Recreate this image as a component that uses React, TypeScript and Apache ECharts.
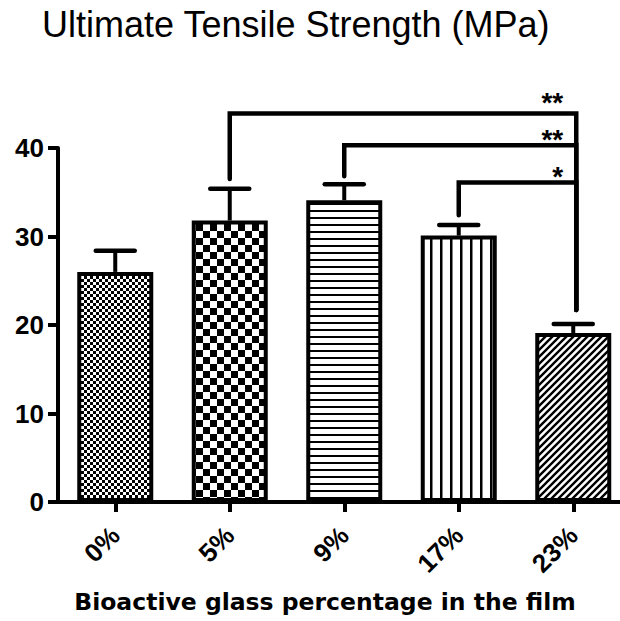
import React, { useEffect, useRef } from "react";
import * as echarts from "echarts";

const categories = ["0%", "5%", "9%", "17%", "23%"];
const means = [26.0, 31.8, 34.1, 30.1, 19.1];
const upperErrors = [28.4, 35.4, 35.9, 31.3, 20.1];
const yMax = 40;
const yInterval = 10;

const bracketFrom = [1, 2, 3];
const bracketTo = [4, 4, 4];
const bracketLevel = [43.9, 40.3, 36.1];
const bracketFromEnd = [36.5, 36.8, 32.4];
const bracketToEnd = [21.7, 21.7, 21.7];
const bracketLabels = ["**", "**", "*"];

const titleText = "Ultimate Tensile Strength (MPa)";
const xAxisName = "Bioactive glass percentage in the film";

function makeCanvas(w: number, h: number) {
  const c = document.createElement("canvas");
  c.width = w;
  c.height = h;
  const ctx = c.getContext("2d")!;
  ctx.fillStyle = "#fff";
  ctx.fillRect(0, 0, w, h);
  ctx.fillStyle = "#000";
  ctx.strokeStyle = "#000";
  return { c, ctx };
}

function makePatterns() {
  const fine = makeCanvas(6, 6);
  fine.ctx.fillRect(0, 0, 3, 3);
  fine.ctx.fillRect(3, 3, 3, 3);

  const coarse = makeCanvas(14, 14);
  coarse.ctx.fillRect(0, 0, 7, 7);
  coarse.ctx.fillRect(7, 7, 7, 7);

  const hl = makeCanvas(8, 7);
  hl.ctx.fillRect(0, 0, 8, 2);

  const vl = makeCanvas(10, 8);
  vl.ctx.fillRect(0, 0, 2.5, 8);

  const dg = makeCanvas(7, 7);
  dg.ctx.lineWidth = 2.4;
  dg.ctx.beginPath();
  dg.ctx.moveTo(-1, 8);
  dg.ctx.lineTo(8, -1);
  dg.ctx.moveTo(-2, 2);
  dg.ctx.lineTo(2, -2);
  dg.ctx.moveTo(5, 9);
  dg.ctx.lineTo(9, 5);
  dg.ctx.stroke();

  return [fine.c, coarse.c, hl.c, vl.c, dg.c];
}

export default function App() {
  const ref = useRef<HTMLDivElement>(null);

  useEffect(() => {
    if (!ref.current) return;
    const chart = echarts.init(ref.current, undefined, { renderer: "svg" });
    const patterns = makePatterns();

    const option: any = {
      animation: false,
      backgroundColor: "#fff",
      title: {
        text: titleText,
        left: 42,
        top: 6,
        padding: 0,
        textStyle: {
          fontFamily: "Liberation Sans, Arial",
          fontSize: 36,
          fontWeight: "normal",
          color: "#000",
        },
      },
      grid: { left: 58, top: 148, width: 572.5, height: 354, containLabel: false },
      xAxis: {
        type: "category",
        data: categories,
        axisLine: { show: true, lineStyle: { color: "#000", width: 4 } },
        axisTick: { show: true, alignWithLabel: true, length: 10, lineStyle: { color: "#000", width: 4 } },
        axisLabel: {
          rotate: 45,
          margin: 29,
          color: "#000",
          fontFamily: "Liberation Sans, Arial",
          fontWeight: "bold",
          fontSize: 26,
        },
        splitLine: { show: false },
      },
      yAxis: {
        type: "value",
        min: 0,
        max: yMax,
        interval: yInterval,
        axisLine: { show: true, lineStyle: { color: "#000", width: 4 } },
        axisTick: { show: true, length: 10, lineStyle: { color: "#000", width: 4 } },
        axisLabel: {
          margin: 14,
          color: "#000",
          fontFamily: "Liberation Sans, Arial",
          fontWeight: "bold",
          fontSize: 26,
        },
        splitLine: { show: false },
      },
      graphic: [
        {
          type: "text",
          x: 325,
          y: 602,
          style: {
            text: xAxisName,
            font: 'bold 23.5px "DejaVu Sans"',
            fill: "#000",
            align: "center",
            verticalAlign: "middle",
          },
        },
      ],
      series: [
        {
          type: "bar",
          barWidth: 76,
          data: means.map((v, i) => ({
            value: v,
            itemStyle: {
              color: { image: patterns[i], repeat: "repeat" },
              borderColor: "#000",
              borderWidth: 4,
            },
          })),
          z: 2,
        },
        {
          type: "custom",
          z: 3,
          data: categories.map((_, i) => [i, means[i], upperErrors[i]]),
          renderItem: (params: any, api: any) => {
            const x = api.value(0);
            const p0 = api.coord([x, api.value(1)]);
            const p1 = api.coord([x, api.value(2)]);
            return {
              type: "group",
              children: [
                {
                  type: "line",
                  shape: { x1: p0[0], y1: p0[1], x2: p1[0], y2: p1[1] },
                  style: { stroke: "#000", lineWidth: 4 },
                },
                {
                  type: "line",
                  shape: { x1: p1[0] - 19.5, y1: p1[1], x2: p1[0] + 19.5, y2: p1[1] },
                  style: { stroke: "#000", lineWidth: 4.5, lineCap: "round" },
                },
              ],
            };
          },
        },
        {
          type: "custom",
          z: 4,
          clip: false,
          data: bracketFrom.map((f, i) => [f, bracketTo[i], bracketLevel[i], bracketFromEnd[i], bracketToEnd[i]]),
          renderItem: (params: any, api: any) => {
            const i = params.dataIndex;
            const lb = api.coord([api.value(0), api.value(3)]);
            const lt = api.coord([api.value(0), api.value(2)]);
            const rt = api.coord([api.value(1), api.value(2)]);
            const rb = api.coord([api.value(1), api.value(4)]);
            const xR = rt[0] + 3;
            const gap = i === 0 ? 11 : 6;
            return {
              type: "group",
              children: [
                {
                  type: "polyline",
                  shape: {
                    points: [
                      [lb[0], lb[1]],
                      [lt[0], lt[1]],
                      [xR, rt[1]],
                      [xR, rb[1]],
                    ],
                  },
                  style: { stroke: "#000", lineWidth: 4.5, fill: null, lineJoin: "miter", lineCap: "round" },
                },
                {
                  type: "text",
                  x: xR - 13,
                  y: rt[1] - gap,
                  style: {
                    text: bracketLabels[i],
                    font: 'bold 28px "Liberation Sans", Arial',
                    fill: "#000",
                    align: "right",
                    verticalAlign: "middle",
                  },
                },
              ],
            };
          },
        },
      ],
    };

    chart.setOption(option);
    return () => chart.dispose();
  }, []);

  return (
    <div style={{ position: "absolute", left: 0, top: 0, width: 620, height: 621, overflow: "hidden", background: "#fff" }}>
      <div ref={ref} style={{ position: "absolute", left: 0, top: 0, width: 640, height: 621 }} />
    </div>
  );
}
